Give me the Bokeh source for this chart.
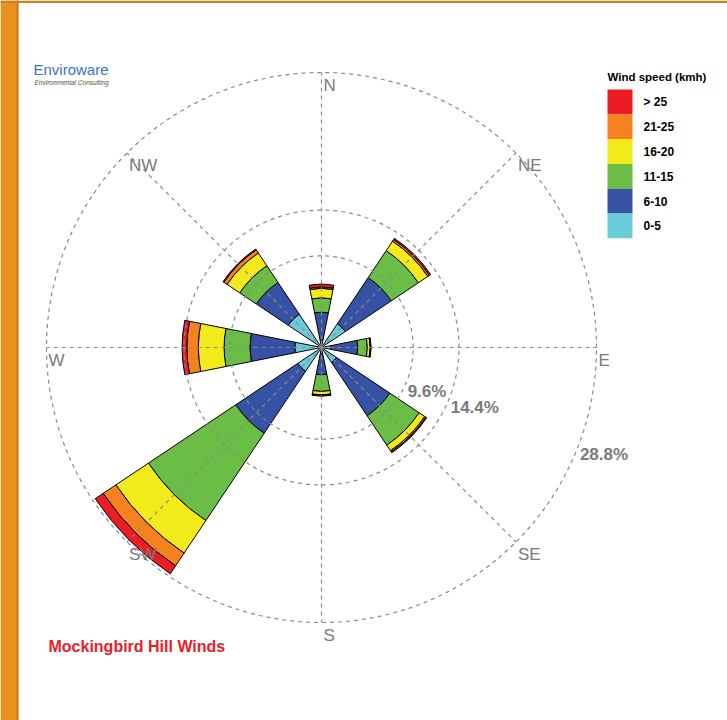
import numpy as np
from bokeh.plotting import figure
from bokeh.models import Range1d, ColumnDataSource
from bokeh.core.properties import value
from bokeh.embed import file_html
from bokeh.resources import INLINE

# ---------------- data ----------------
directions = ["N", "NE", "E", "SE", "S", "SW", "W", "NW"]
bearings = [0, 45, 90, 135, 180, 225, 270, 315]
speed_labels = ["0-5", "6-10", "11-15", "16-20", "21-25", "> 25"]
speed_colors = ["#6ACCDA", "#3652A4", "#6ABD45", "#F2EA1A", "#F6821F", "#ED1C24"]

# frequency (%) per speed class, per direction (N, NE, E, SE, S, SW, W, NW)
freq_0_5 = [0.8, 3.0, 1.0, 1.9, 0.6, 3.0, 2.8, 4.2]
freq_6_10 = [2.9, 5.8, 2.8, 6.7, 2.25, 7.8, 4.7, 4.0]
freq_11_15 = [1.5, 3.4, 1.0, 3.7, 1.75, 11.0, 2.7, 2.1]
freq_16_20 = [1.0, 1.2, 0.3, 0.7, 0.37, 4.1, 2.7, 1.6]
freq_21_25 = [0.15, 0.2, 0.05, 0.15, 0.03, 1.6, 1.2, 0.4]
freq_gt_25 = [0.3, 0.15, 0.05, 0.1, 0.1, 1.0, 0.5, 0.1]

rings = [9.6, 14.4, 28.8]
ring_labels = ["9.6%", "14.4%", "28.8%"]

title_text = "Mockingbird Hill Winds"
legend_title = "Wind speed (kmh)"

# ---------------- layout helpers ----------------
W, H = 727, 720
CX, CY = 321.0, 347.0          # position of the rose centre
S = 275.0 / rings[-1]          # pixels per percent


def px(X):
    return (X - CX) / S


def py(Y):
    return (CY - Y) / S


p = figure(width=W, height=H, output_backend="svg", toolbar_location=None,
           x_range=Range1d(px(0), px(W)), y_range=Range1d(py(H), py(0)),
           min_border=0, outline_line_color=None)
p.axis.visible = False
p.grid.visible = False
p.background_fill_color = "white"
p.border_fill_color = "white"

FONT = value("Liberation Sans")

# orange page border
p.quad(left=px(0), right=px(18), top=py(0), bottom=py(H), fill_color="#E8911B", line_color=None)
p.quad(left=px(15.5), right=px(18), top=py(0), bottom=py(H), fill_color="#CF821C", line_color=None)
p.quad(left=px(0), right=px(W), top=py(0), bottom=py(2.5), fill_color="#CC8020", line_color=None)

# ---------------- petals ----------------
series = [freq_0_5, freq_6_10, freq_11_15, freq_16_20, freq_21_25, freq_gt_25]
ang = np.radians(90 - np.array(bearings, dtype=float))
half = np.radians(11.25)
cum = np.zeros(len(directions))
for vals, col in zip(series, speed_colors):
    inner = cum.copy()
    cum = cum + np.array(vals)
    src = ColumnDataSource(dict(x=np.zeros(len(directions)), y=np.zeros(len(directions)),
                                inner=inner, outer=cum.copy(),
                                start=ang - half, end=ang + half))
    p.annular_wedge(x="x", y="y", inner_radius="inner", outer_radius="outer",
                    start_angle="start", end_angle="end", source=src,
                    fill_color=col, line_color="black", line_width=1)

# ---------------- grid ----------------
grid_col = "#8A8A8A"
for r in rings:
    p.arc(x=0, y=0, radius=r, start_angle=0, end_angle=2 * np.pi,
          line_color=grid_col, line_dash="4 4", line_width=1.2)
R = rings[-1]
p.segment(x0=np.zeros(8), y0=np.zeros(8), x1=R * np.cos(ang), y1=R * np.sin(ang),
          line_color=grid_col, line_dash="4 4", line_width=1.2)

# compass labels
p.text(x=R * np.cos(ang), y=R * np.sin(ang), text=directions, x_offset=2, y_offset=3,
       text_font=FONT, text_font_size=value("17px"), text_color="#7A7A7A",
       text_align="left", text_baseline="top")

# ring labels
la = np.radians(-20)
rr = np.array(rings)
p.text(x=rr * np.cos(la), y=rr * np.sin(la), text=ring_labels, x_offset=0, y_offset=3,
       text_font=FONT, text_font_size=value("17px"), text_color="#7A7A7A",
       text_font_style="bold", text_align="left", text_baseline="top")

# ---------------- legend ----------------
box_h = 24.8
top0 = 89.0
leg_labels = speed_labels[::-1]
leg_colors = speed_colors[::-1]
tops = np.array([py(top0 + i * box_h) for i in range(6)])
bots = np.array([py(top0 + (i + 1) * box_h) for i in range(6)])
p.quad(left=px(607), right=px(632), top=tops, bottom=bots, fill_color=leg_colors, line_color=None)
p.text(x=[px(643)] * 6, y=(tops + bots) / 2, text=leg_labels,
       text_font=FONT, text_font_size=value("12px"), text_font_style="bold",
       text_color="black", text_align="left", text_baseline="middle")
p.text(x=[px(607)], y=[py(76)], text=[legend_title],
       text_font=FONT, text_font_size=value("11.5px"), text_font_style="bold",
       text_color="black", text_align="left", text_baseline="middle")

# ---------------- title & logo ----------------
p.text(x=[px(48)], y=[py(646)], text=[title_text],
       text_font=FONT, text_font_size=value("16px"), text_font_style="bold",
       text_color="#E8202A", text_align="left", text_baseline="middle")
p.text(x=[px(33)], y=[py(69)], text=["Enviroware"],
       text_font=FONT, text_font_size=value("15px"),
       text_color="#3B73C4", text_align="left", text_baseline="middle")
p.text(x=[px(34)], y=[py(82)], text=["Environmental Consulting"],
       text_font=FONT, text_font_size=value("6.5px"), text_font_style="italic",
       text_color="#4A5A38", text_align="left", text_baseline="middle")

open("out.html", "w").write(file_html(p, INLINE))
